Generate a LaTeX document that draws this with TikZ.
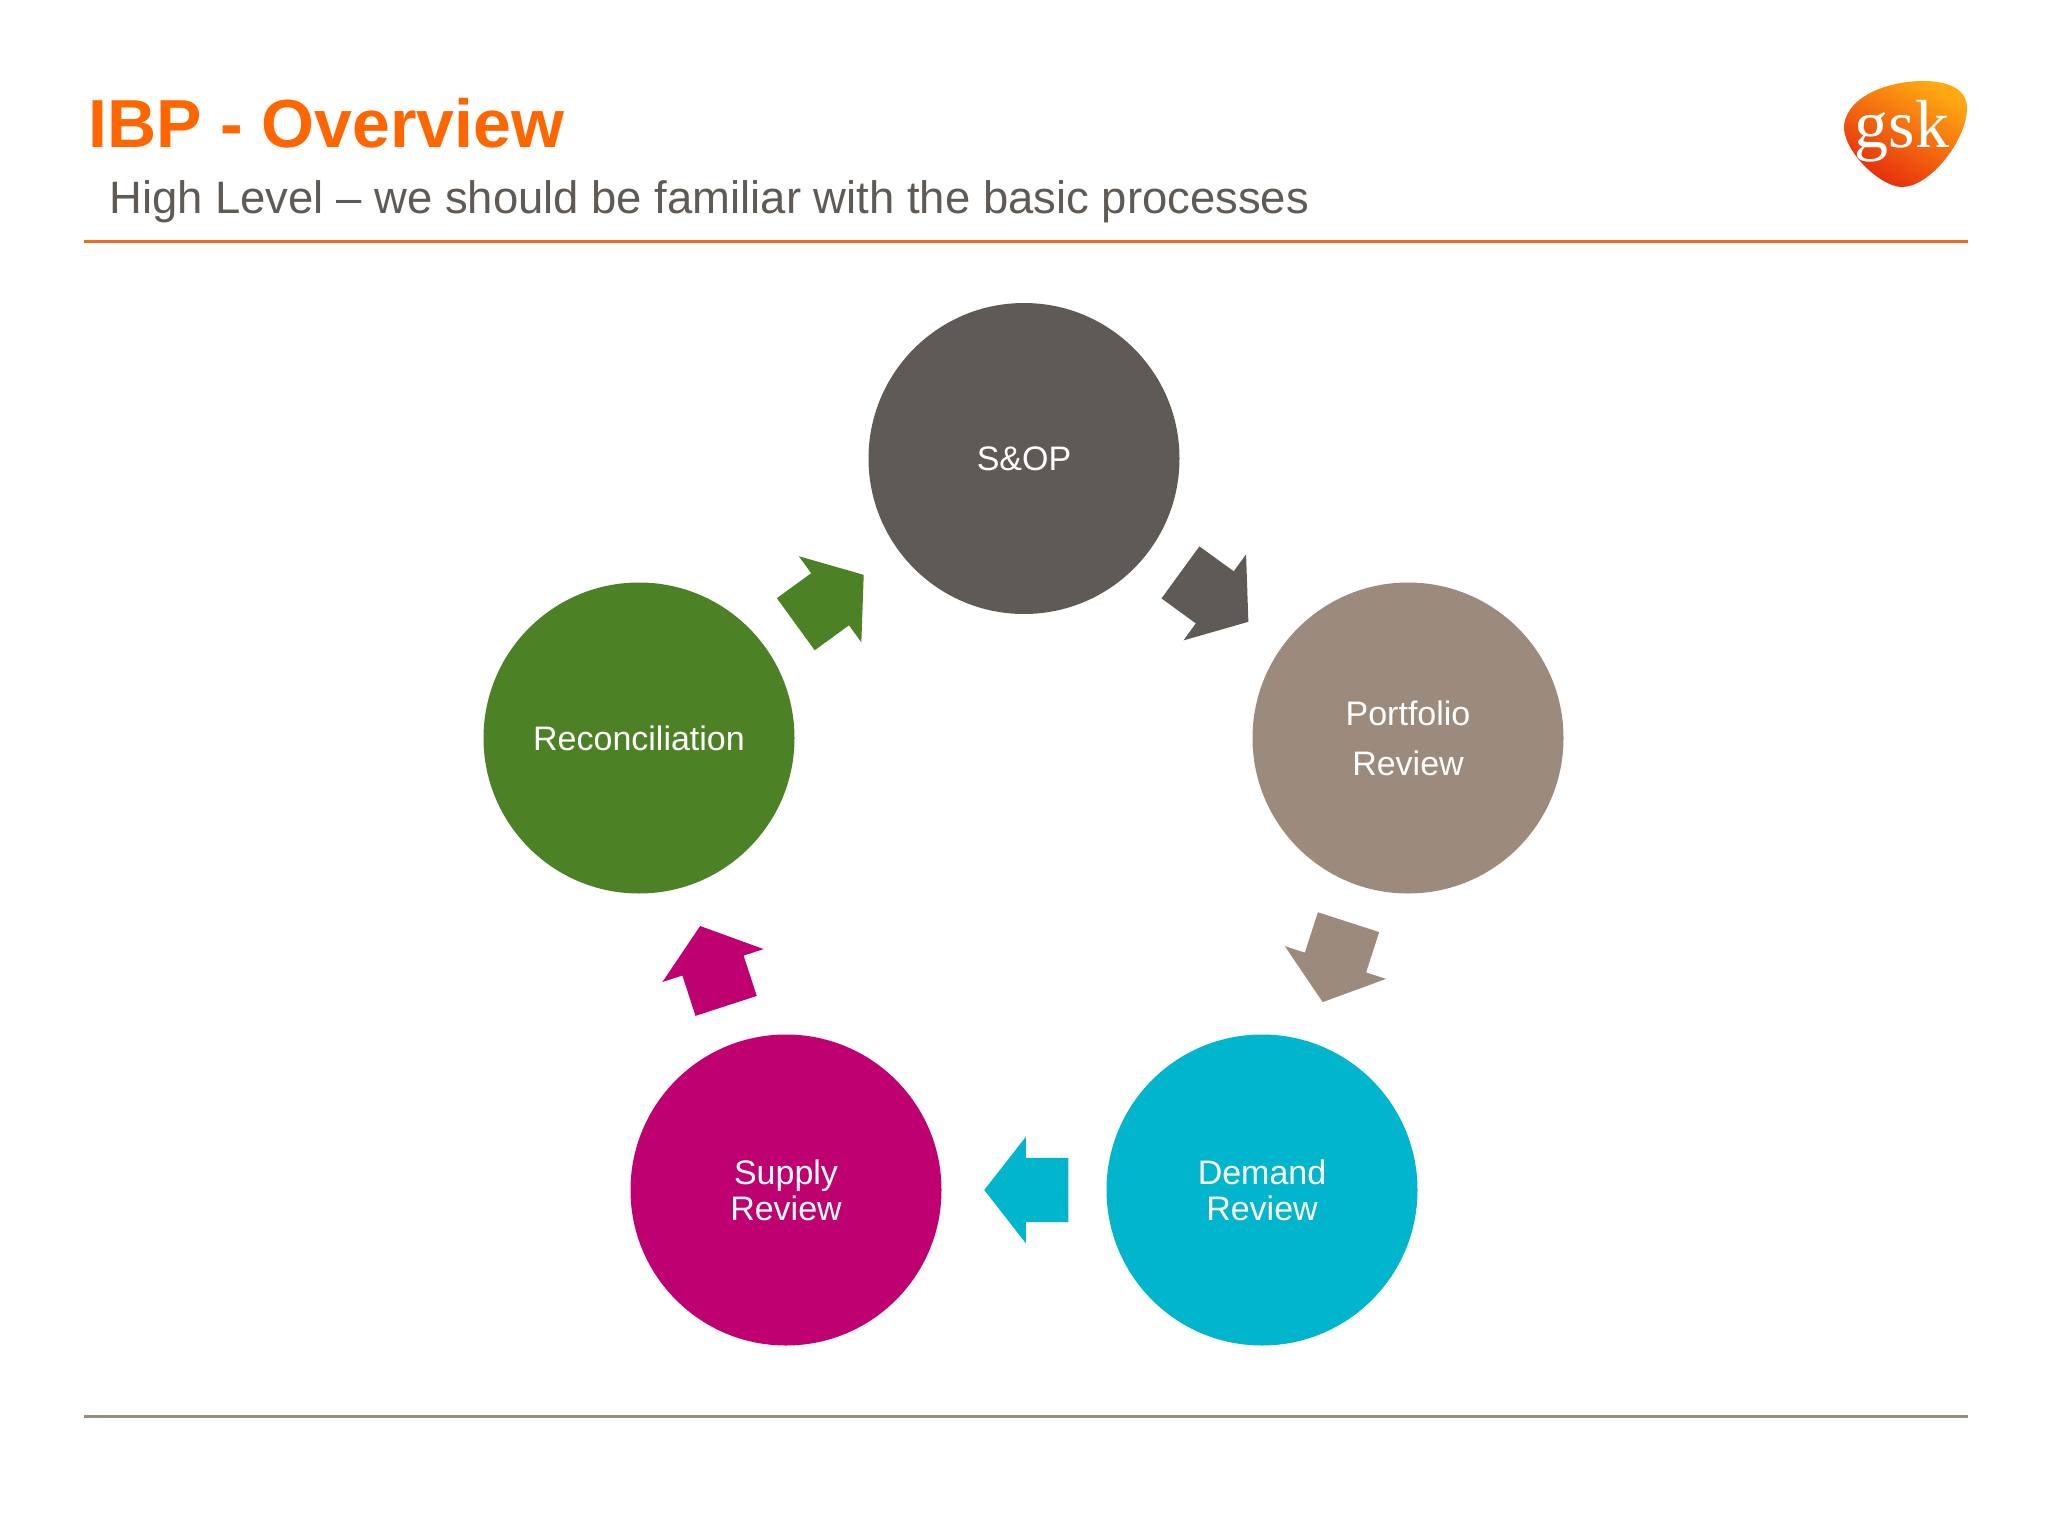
\documentclass[tikz,border=0pt]{standalone}
\usepackage{fontspec}
\setmainfont{Liberation Sans}
\newfontfamily\logofont{Liberation Serif}
\usetikzlibrary{shapes.arrows}
\definecolor{titleorange}{HTML}{FF6600}
\definecolor{ruleorange}{HTML}{F5661E}
\definecolor{subgray}{HTML}{5F5A55}
\definecolor{snopgray}{HTML}{605A56}
\definecolor{taupe}{HTML}{9C8B7D}
\definecolor{demandteal}{HTML}{00B5CC}
\definecolor{supplypink}{HTML}{BE0071}
\definecolor{recongreen}{HTML}{4C8225}
\definecolor{logored}{HTML}{E62A0C}
\definecolor{logomid}{HTML}{F9610F}
\definecolor{logotop}{HTML}{FFA912}
\tikzset{
	stage/.style = {circle, minimum size=311pt, inner sep=0pt, text=white, align=center,
		font=\fontsize{34}{36}\selectfont},
	flow/.style = {single arrow, minimum height=84pt, inner xsep=0pt, inner ysep=32pt,
		single arrow head extend=21pt, single arrow tip angle=104, sloped, allow upside down, pos=0.23, anchor=tail}
}
\begin{document}
\begin{tikzpicture}[x=1pt,y=-1pt]
	\useasboundingbox (0,0) rectangle (2048,1536);
	\node[anchor=base west, inner sep=0pt, text=titleorange, font=\fontsize{68}{68}\selectfont\bfseries] (title) at (88,148) {IBP - Overview};
	\node[anchor=base west, inner sep=0pt, text=subgray, font=\fontsize{45.45}{46}\selectfont] (subtitle) at (109,213) {High Level -- we should be familiar with the basic processes};
	\draw[ruleorange, line width=3pt] (84,241) -- (1968,241);
	\draw[taupe, line width=3pt] (84,1416) -- (1968,1416);

	\shade[shading=axis, bottom color=logored, middle color=logomid, top color=logotop, shading angle=-30]
		(1844,125) .. controls (1848,95) and (1890,81) .. (1923,81) .. controls (1950,81) and (1967,90) .. (1967,108)
		.. controls (1967,140) and (1930,187) .. (1902,187) .. controls (1880,187) and (1842,150) .. (1844,125) -- cycle;
	\node[anchor=base, inner sep=0pt, text=white, font=\logofont\fontsize{68}{68}\selectfont] (logo) at (1902,147) {gsk};

	\node[stage, fill=snopgray] (snop) at (1024,458.5) {S\&OP};
	\node[stage, fill=taupe] (portfolio) at (1408,738) {Portfolio\\[14pt]Review};
	\node[stage, fill=demandteal] (demand) at (1262,1190) {Demand\\Review};
	\node[stage, fill=supplypink] (supply) at (786,1190) {Supply\\Review};
	\node[stage, fill=recongreen] (recon) at (639,738) {Reconciliation};

	\path (snop) -- node[flow, fill=snopgray] (flowa) {} (portfolio);
	\path (portfolio) -- node[flow, fill=taupe] (flowb) {} (demand);
	\path (demand) -- node[flow, fill=demandteal] (flowc) {} (supply);
	\path (supply) -- node[flow, fill=supplypink] (flowd) {} (recon);
	\path (recon) -- node[flow, fill=recongreen] (flowe) {} (snop);
\end{tikzpicture}
\end{document}
